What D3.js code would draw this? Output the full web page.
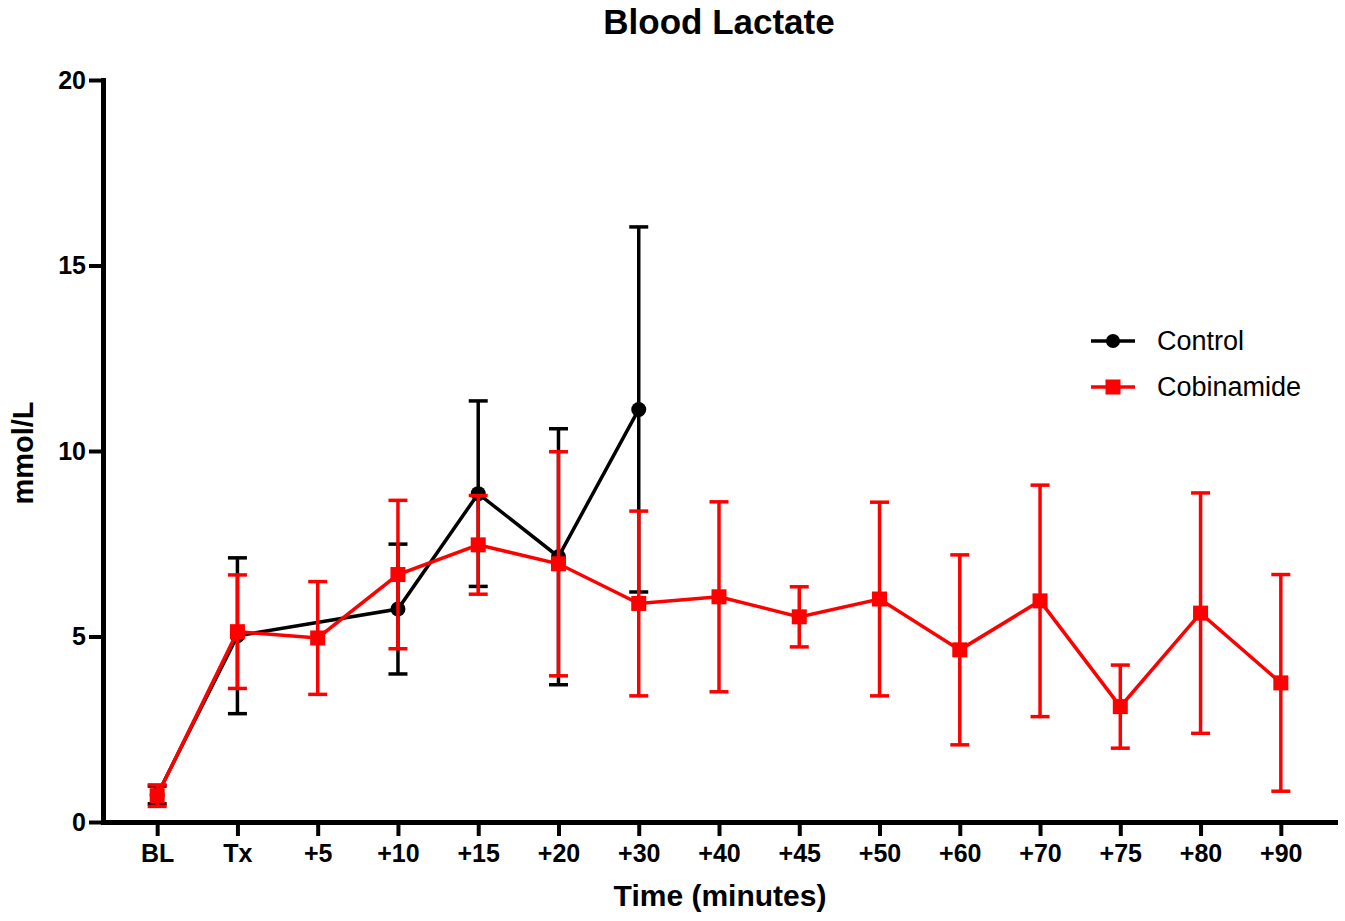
<!DOCTYPE html>
<html lang="en">
  <head>
    <meta charset="utf-8">
    <title>Blood Lactate</title>
    <style>
      body {
        margin: 0;
        background: #fff;
      }
      svg text {
        font-family: "Liberation Sans", Arial, Helvetica, sans-serif;
      }
      .axis path, .axis line {
        stroke: #000;
      }
      .axis path {
        stroke-width: 5px;
      }
      .axis line {
        stroke-width: 4px;
      }
      .axis text {
        font-size: 25px;
        font-weight: bold;
        fill: #000;
      }
      .line {
        fill: none;
        stroke-width: 3.5px;
      }
    </style>
  </head>

  <body>
    <svg id="wrapper" width="1345" height="921"></svg>

    <script src="https://cdnjs.cloudflare.com/ajax/libs/d3/7.8.5/d3.min.js"></script>
    <script>
    const categories = ['BL', 'Tx', '+5', '+10', '+15', '+20', '+30', '+40', '+45', '+50', '+60', '+70', '+75', '+80', '+90'];

    // Control: mean and SD (no value at +5, stops after +30)
    const controlMean = [0.73, 5.02, null, 5.74, 8.85, 7.15, 11.12, null, null, null, null, null, null, null, null];
    const controlSd   = [0.24, 2.10, null, 1.75, 2.50, 3.45, 4.92, null, null, null, null, null, null, null, null];

    // Cobinamide: mean and SD
    const cobinamideMean = [0.71, 5.13, 4.96, 6.67, 7.47, 6.96, 5.89, 6.07, 5.53, 6.01, 4.64, 5.96, 3.11, 5.63, 3.75];
    const cobinamideSd   = [0.29, 1.53, 1.52, 2.00, 1.33, 3.02, 2.49, 2.56, 0.81, 2.61, 2.56, 3.12, 1.12, 3.24, 2.92];

    const yTicks = [0, 5, 10, 15, 20];

    const red = '#ff0000';
    const black = '#000000';

    const svg = d3.select('#wrapper');

    // scales
    const x = d3.scalePoint()
      .domain(categories)
      .range([103, 1335])
      .padding(0.675);
    const y = d3.scaleLinear()
      .domain([0, 20])
      .range([822, 80]);

    function toPoints(means, sds) {
      let pts = [];
      for (let i = 0; i < categories.length; i++) {
        if (means[i] != null) {
          pts.push({cat: categories[i], mean: means[i], sd: sds[i]});
        }
      }
      return pts;
    }

    const series = [
      {name: 'Control', color: black, shape: 'circle', pts: toPoints(controlMean, controlSd)},
      {name: 'Cobinamide', color: red, shape: 'square', pts: toPoints(cobinamideMean, cobinamideSd)}
    ];

    // axes (tickSize first, it also sets the outer size)
    svg.append('g')
      .attr('class', 'axis axis-x')
      .attr('transform', 'translate(0,' + 822 + ')')
      .call(d3.axisBottom(x).tickSize(14).tickSizeOuter(0).tickPadding(8));

    svg.append('g')
      .attr('class', 'axis axis-y')
      .attr('transform', 'translate(' + 103 + ',0)')
      .call(d3.axisLeft(y).tickValues(yTicks).tickSize(14).tickSizeOuter(0).tickPadding(3));

    // extend the axis lines so they join at the corner
    svg.selectAll('.axis path').attr('stroke-linecap', 'square');

    const capW = 19;
    const line = d3.line()
      .x(function(d) { return x(d.cat); })
      .y(function(d) { return y(d.mean); });

    series.forEach(function(s) {
      let g = svg.append('g');

      // error bars
      let eb = g.selectAll('.err')
        .data(s.pts)
        .enter().append('g')
        .attr('stroke', s.color)
        .attr('stroke-width', 3.5);
      eb.append('line')
        .attr('x1', function(d) { return x(d.cat); })
        .attr('x2', function(d) { return x(d.cat); })
        .attr('y1', function(d) { return y(d.mean - d.sd); })
        .attr('y2', function(d) { return y(d.mean + d.sd); });
      eb.append('line')
        .attr('x1', function(d) { return x(d.cat) - capW / 2; })
        .attr('x2', function(d) { return x(d.cat) + capW / 2; })
        .attr('y1', function(d) { return y(d.mean + d.sd); })
        .attr('y2', function(d) { return y(d.mean + d.sd); });
      eb.append('line')
        .attr('x1', function(d) { return x(d.cat) - capW / 2; })
        .attr('x2', function(d) { return x(d.cat) + capW / 2; })
        .attr('y1', function(d) { return y(d.mean - d.sd); })
        .attr('y2', function(d) { return y(d.mean - d.sd); });

      // connecting line
      g.append('path')
        .datum(s.pts)
        .attr('class', 'line')
        .attr('stroke', s.color)
        .attr('d', line);

      // markers
      if (s.shape === 'circle') {
        g.selectAll('.pt')
          .data(s.pts)
          .enter().append('circle')
          .attr('cx', function(d) { return x(d.cat); })
          .attr('cy', function(d) { return y(d.mean); })
          .attr('r', 7.5)
          .attr('fill', s.color);
      } else {
        g.selectAll('.pt')
          .data(s.pts)
          .enter().append('rect')
          .attr('x', function(d) { return x(d.cat) - 7.5; })
          .attr('y', function(d) { return y(d.mean) - 7.5; })
          .attr('width', 15)
          .attr('height', 15)
          .attr('fill', s.color);
      }
    });

    // legend
    const legend = svg.append('g')
      .attr('transform', 'translate(1091,341)');
    series.forEach(function(s, i) {
      let row = legend.append('g').attr('transform', 'translate(0,' + (i * 46) + ')');
      row.append('line')
        .attr('x1', 0).attr('x2', 44)
        .attr('y1', 0).attr('y2', 0)
        .attr('stroke', s.color)
        .attr('stroke-width', 3.5);
      if (s.shape === 'circle') {
        row.append('circle').attr('cx', 22).attr('cy', 0).attr('r', 7).attr('fill', s.color);
      } else {
        row.append('rect').attr('x', 14.5).attr('y', -7.5).attr('width', 15).attr('height', 15).attr('fill', s.color);
      }
      row.append('text')
        .attr('x', 66)
        .attr('y', 0)
        .attr('dy', '0.35em')
        .attr('font-size', '27px')
        .attr('fill', '#000')
        .text(s.name);
    });

    // titles
    svg.append('text')
      .attr('x', 719)
      .attr('y', 34)
      .attr('text-anchor', 'middle')
      .attr('font-size', '35px')
      .attr('font-weight', 'bold')
      .text('Blood Lactate');

    svg.append('text')
      .attr('x', 720)
      .attr('y', 906)
      .attr('text-anchor', 'middle')
      .attr('font-size', '30px')
      .attr('font-weight', 'bold')
      .text('Time (minutes)');

    svg.append('text')
      .attr('transform', 'translate(33,453) rotate(-90)')
      .attr('text-anchor', 'middle')
      .attr('font-size', '29px')
      .attr('font-weight', 'bold')
      .text('mmol/L');
    </script>
  </body>
</html>
